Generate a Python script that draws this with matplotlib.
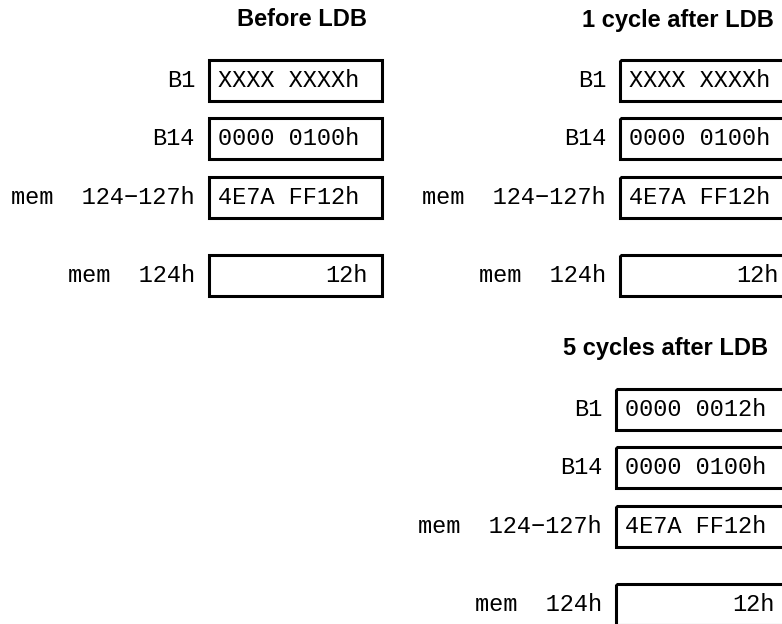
"""Register/memory state diagram for an LDB instruction (before, +1 and +5 cycles)."""

import matplotlib

matplotlib.use("Agg")
import matplotlib.pyplot as plt
from matplotlib.patches import Rectangle

# --- content -------------------------------------------------------------
PANEL_TITLES = ["Before LDB", "1 cycle after LDB", "5 cycles after LDB"]
ROW_LABELS = ["B1", "B14", "mem  124\u2212127h", "mem  124h"]
BEFORE = ["XXXX XXXXh", "0000 0100h", "4E7A FF12h", "12h"]
AFTER_1 = ["XXXX XXXXh", "0000 0100h", "4E7A FF12h", "12h"]
AFTER_5 = ["0000 0012h", "0000 0100h", "4E7A FF12h", "12h"]
PANEL_VALUES = [BEFORE, AFTER_1, AFTER_5]

# --- layout (pixels, origin top-left) ------------------------------------
W, H = 782, 624
BOX_LEFT = [209, 620, 616]
PANEL_DY = [0, 0, 329]
TITLE_POS = [(302, 20), (678, 20), (666, 349)]
ROW_TOP = [60, 118, 177, 255]
BOX_W, BOX_H = 173, 41
MONO = "Liberation Mono"
SANS = "Liberation Sans"
FS = 17

fig = plt.figure(figsize=(W / 100, H / 100), dpi=100)
ax = fig.add_axes([0, 0, 1, 1])
ax.set_xlim(0, W)
ax.set_ylim(H, 0)
ax.axis("off")

for title, values, x0, dy, (tx, ty) in zip(PANEL_TITLES, PANEL_VALUES, BOX_LEFT, PANEL_DY, TITLE_POS):
    ax.text(tx, ty, title, ha="center", va="center", fontsize=FS,
            fontweight="bold", family=SANS)
    for i, (label, val) in enumerate(zip(ROW_LABELS, values)):
        top = ROW_TOP[i] + dy
        yc = top + BOX_H / 2
        ax.add_patch(Rectangle((x0, top), BOX_W, BOX_H, fill=False,
                               edgecolor="black", linewidth=2.2, clip_on=False))
        ax.text(x0 - 14, yc, label, ha="right", va="center", fontsize=FS, family=MONO)
        if i == len(ROW_LABELS) - 1:
            # single byte value is right-justified in the box
            ax.text(x0 + BOX_W - 14, yc, val, ha="right", va="center",
                    fontsize=FS, family=MONO)
        else:
            ax.text(x0 + 9, yc, val, ha="left", va="center", fontsize=FS, family=MONO)

fig.savefig("out.png", dpi=100, facecolor="white")
plt.close(fig)
